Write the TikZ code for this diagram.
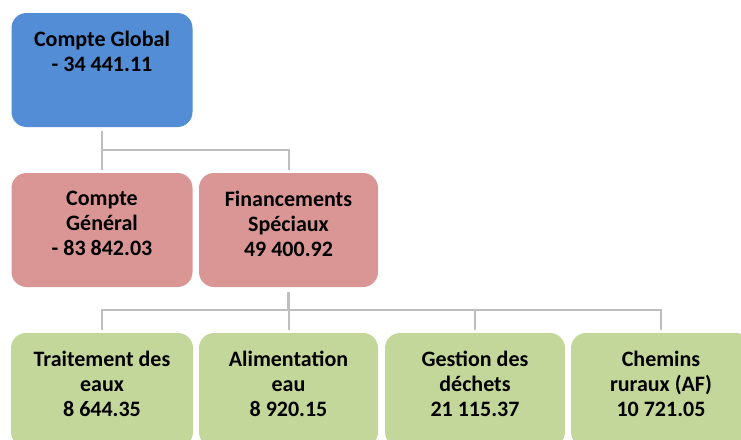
\documentclass[tikz,border=0pt]{standalone}
\usepackage{fontspec}
\setmainfont{Carlito}
\usepackage{xcolor}
\definecolor{boxblue}{RGB}{83,141,213}
\definecolor{boxpink}{RGB}{218,150,148}
\definecolor{boxgreen}{RGB}{196,215,155}
\definecolor{linegray}{RGB}{190,190,190}
\tikzset{%
    box/.style={%
        draw=none, rounded corners=15pt, minimum width=181pt,
        minimum height=114pt, inner sep=0pt
    },
    boxtext/.style={%
        anchor=north, align=center, inner sep=0pt,
        font=\fontsize{22}{25}\selectfont\bfseries
    },
    conn/.style={draw=linegray, line width=2pt}
}

\begin{document}
\begin{tikzpicture}[x=1pt,y=-1pt]
    \useasboundingbox (0,0) rectangle (741,439);
    \clip (0,0) rectangle (741,439);
    % top level
    \node[box, fill=boxblue] (global) at (102,70) {};
    \node[boxtext] (globaltxt) at ([yshift=-18.5pt]global.north) {Compte Global\\- 34 441.11};
    % second level
    \node[box, fill=boxpink] (general) at (102,230) {};
    \node[box, fill=boxpink, minimum width=179pt] (speciaux) at (288.5,230) {};
    \node[boxtext] (generaltxt) at ([yshift=-18.5pt]general.north) {Compte\\Général\\- 83 842.03};
    \node[boxtext] (speciauxtxt) at ([yshift=-18.5pt]speciaux.north) {Financements\\Spéciaux\\49 400.92};
    % third level
    \node[box, fill=boxgreen, minimum width=182pt] (eaux) at (102,390) {};
    \node[box, fill=boxgreen, minimum width=179pt] (alim) at (288.5,390) {};
    \node[box, fill=boxgreen, minimum width=180pt] (dechets) at (475,390) {};
    \node[box, fill=boxgreen, minimum width=180pt] (chemins) at (661,390) {};
    \node[boxtext] (eauxtxt) at ([yshift=-18.5pt]eaux.north) {Traitement des\\eaux\\8 644.35};
    \node[boxtext] (alimtxt) at ([yshift=-18.5pt]alim.north) {Alimentation\\eau\\8 920.15};
    \node[boxtext] (dechetstxt) at ([yshift=-18.5pt]dechets.north) {Gestion des\\déchets\\21 115.37};
    \node[boxtext] (cheminstxt) at ([yshift=-18.5pt]chemins.north) {Chemins\\ruraux (AF)\\10 721.05};
    % connectors
    \draw[conn, shorten <=4pt] (global.south) -- ++(0,23) coordinate (j1);
    \draw[conn, shorten >=3pt] (j1) -| (general.north);
    \draw[conn, shorten >=3pt] (j1) -| (speciaux.north);
    \draw[conn, line width=3pt, shorten <=5pt] (speciaux.south) -- ++(0,23) coordinate (j2);
    \foreach \child in {eaux,alim,dechets,chemins}
        \draw[conn, shorten >=3pt] (j2) -| (\child.north);
\end{tikzpicture}
\end{document}
